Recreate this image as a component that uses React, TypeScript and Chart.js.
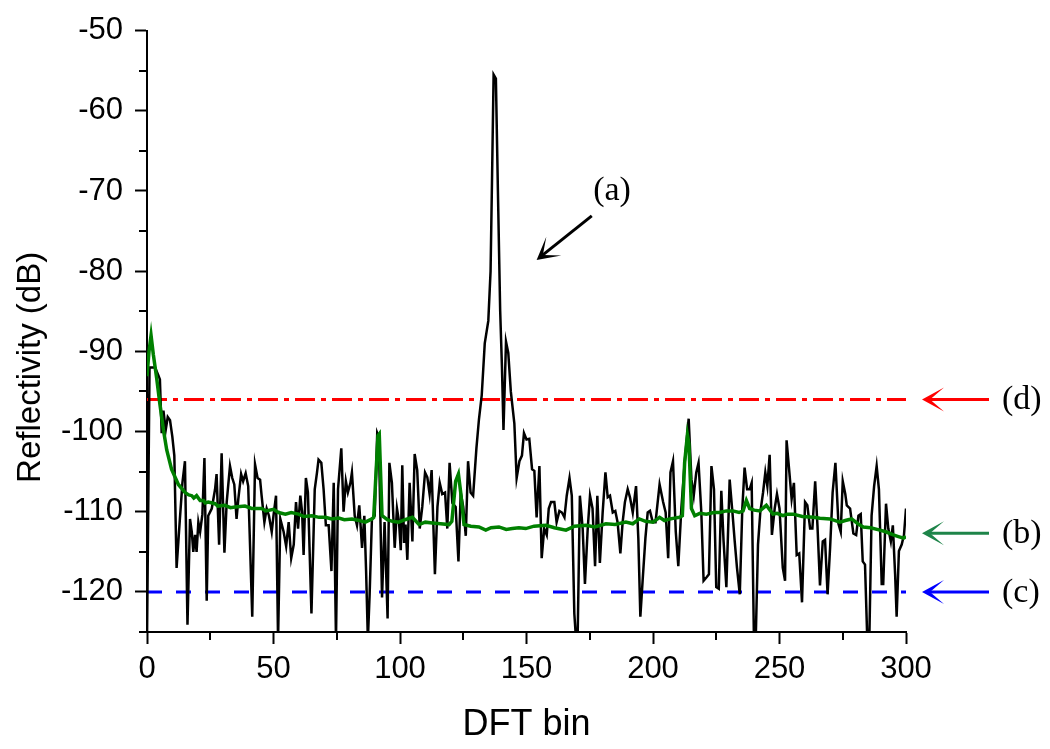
import React, { useEffect, useRef } from 'react';
import { Chart, registerables } from 'chart.js';

Chart.register(...registerables);

// ---- Data ----
const blackBins = [
  0, 1, 1.8, 3.2, 4.5, 5.1, 5.8, 6.5, 7.4, 8.2, 9.1, 10, 10.8, 11.7, 12.4, 13, 14, 15, 16, 17, 17.7, 18.3, 19, 19.6, 20.3, 21, 21.9, 22.7, 23.6, 24.2,
  25.6, 26.9, 27.5, 28.5, 29.5, 30.6, 31.5, 32.8, 33.7, 34.5, 35.4, 36.1, 37.2, 38, 39, 40, 41.6, 42.7, 43.7, 44.7, 45.3, 46.4, 47.3, 48.2, 49.3,
  50, 51, 51.8, 52.7, 54, 55, 56, 57, 58, 58.9, 59.7, 60.6, 61.3, 61.9, 62.8, 63.6, 65, 66.3, 67.2, 67.8, 68.9, 69.8, 70.7, 71.8, 72.9, 73.8, 74.7,
  75.5, 76.8, 77.7, 78.6, 79.4, 80.4, 81, 82.1, 83, 83.9, 85, 85.9, 86.6, 87.3, 88, 88.9, 90, 91, 91.6, 92.9, 93.9, 95.1, 95.8, 96.8, 97.9, 98.8,
  99.6, 100.3, 100.9, 101.6, 102.2, 102.9, 103.8, 104.9, 105.8, 106.8, 107.8, 108.8, 109.9, 110.8, 111.7, 112.5, 113.8, 114.8, 115.7, 116.7, 117.8,
  118.7, 119.6, 120.7, 122, 123.1, 124, 125, 126, 126.9, 127.9, 128.9, 130.2, 131.2, 132.3, 133.5, 134.9, 135.8, 136.4, 137, 137.9, 138.7, 139.6,
  140.3, 140.9, 141.9, 142.8, 143.8, 145.2, 146.1, 147.2, 148.2, 149, 150, 151.1, 152.2, 153.1, 154, 155.1, 156, 157, 158, 158.8, 159.7, 161, 161.9,
  163, 164, 165, 165.9, 167, 167.9, 168.9, 169.6, 170.2, 171.1, 172.2, 173.1, 174.2, 175.1, 176.1, 177.1, 178, 179, 180.1, 181.2, 182.1, 183, 184.1,
  185.1, 186, 187.1, 188, 188.9, 190, 190.9, 192, 193.3, 194.2, 195, 195.9, 197, 197.9, 198.8, 199.9, 201, 202.6, 204, 205, 206, 206.9, 207.9, 209,
  210, 211.2, 212.5, 214.1, 215.2, 216.1, 217.1, 218, 219.1, 220, 221.1, 222.1, 223.1, 224.1, 225, 226, 227, 227.9, 229, 230.3, 231.4, 232.3, 233.2,
  234.3, 235.3, 236.2, 237.2, 238.2, 239, 239.9, 240.6, 241.5, 242.4, 243.5, 244.4, 245.2, 246.1, 247, 248.1, 249, 250, 251.3, 252.2, 252.8, 253.9,
  254.8, 255.7, 256.8, 257.8, 258.9, 260.1, 261, 262.1, 263, 264.1, 265, 266, 267.1, 268, 269, 270, 271, 272.1, 273.3, 274.2, 275, 276, 276.6,
  277.9, 279.2, 280.3, 281.2, 282.1, 282.9, 283.8, 284.7, 285.5, 286.4, 287.4, 288.4, 289.3, 290.4, 291, 292.1, 293, 294, 294.8, 295.7, 296.3,
  297.2, 298.3, 299.2, 300,
];
const blackRefl = [
  -126, -92, -92, -92, -93, -93.5, -100.2, -97.4, -99.8, -98.2, -98.6, -100.6, -103, -117, -113.7, -110.9, -106.4, -103.7, -124.1, -110.9, -112.5, -115, -112.9, -115, -111.3, -112.5, -110.3, -103.3, -121.1, -110.5,
  -109.6, -107.2, -105.3, -114.1, -102.7, -115.1, -108.8, -104.3, -105.8, -106.6, -110.9, -108.4, -105.3, -106.2, -105.2, -106.8, -123.1, -104.1, -105.8, -106, -108, -111.3, -109.6, -110.5, -112.5,
  -110.5, -108, -126, -110.9, -112.5, -114.3, -111.3, -115.8, -114.1, -108.8, -112.1, -108, -110, -115.4, -105.8, -107.6, -122.7, -107.2, -105.1, -103.5, -103.9, -107.2, -111.7, -111.7, -117.4, -106.4, -126,
  -107.2, -102.1, -110, -106.2, -107.6, -106.4, -105.1, -110.5, -111.7, -109.2, -114.5, -110.5, -117.4, -126, -120.3, -110.9, -110.5, -100.2, -100.7, -120.7, -111.3, -123.3, -103.9, -106.4, -114.5, -109.6,
  -111.2, -114.8, -104.2, -113.9, -111.6, -116, -106.4, -113.7, -102.8, -104.8, -112.1, -109.4, -105.1, -105.7, -107.8, -104.8, -117.8, -109.4, -106.4, -107.8, -107.6,
  -112.1, -103.9, -108.9, -109.4, -116.2, -107.6, -109.4, -113, -103.7, -107.6, -108, -102.1, -98.5, -95.5, -89, -86.2, -80, -68, -55.5, -56, -70, -85,
  -92, -99.8, -88.8, -90.2, -95, -99, -105.8, -103.7, -103, -100.2, -101, -100.9, -104.7, -104.9, -110.7, -104.3, -115.8, -112.1, -112.9, -109.6, -108.8, -108.8, -111.3,
  -109.9, -110.1, -110.7, -108, -105.8, -108, -122.7, -126, -126, -108, -112.1, -119, -112.1, -108, -109.6, -116.8, -108, -116.4, -110.1, -105.1, -108.2, -108, -110.1,
  -109.9, -111.3, -115.2, -111.3, -108.8, -107.2, -108.2, -110.1, -106.8, -113.3, -123.1, -118.6, -113.3, -110.1, -109.9, -111.3, -111.3, -106.6, -108.8, -110.1, -115.8, -105.1, -103.7, -112.5,
  -116.8, -109.6, -103.9, -98.4, -106, -108, -105.1, -103.9, -110.1, -118.6, -118.2, -117.8, -104.3, -107.2, -119.4, -119.6, -107.4, -113.7, -119.4, -106, -110.1, -113.7, -117,
  -120.3, -109.6, -104.5, -107.2, -107.2, -106.4, -126, -126, -114.1, -110.1, -107.6, -105.1, -106.8, -102.9, -112.9, -109.6, -107.8, -109.6, -117, -118.6, -101.1, -105.1,
  -108.4, -106.4, -115.4, -115.2, -121.3, -108.8, -109.2, -112.1, -112.1, -106.2, -111.7, -119.2, -113.7, -113.5, -120.3, -114.5, -107.6, -103.9, -111.5, -112.5, -106.2, -107.8, -109.2,
  -109.6, -112.7, -112.9, -110.5, -110.3, -116.2, -116.6, -126, -126, -110.5, -106.8, -104.3, -107.2, -119, -119, -109, -112.1, -113.7, -111.7, -117.8, -123.1,
  -114.9, -114.1, -112.9, -109.6,
];

const greenBins = [
  0, 0.8, 1.6, 2.5, 3.8, 5.1, 6.5, 7.8, 9.7, 12.4, 15, 16.5, 17.7, 18.5, 19.6, 21, 22.3, 23, 24.2, 26.9, 28, 30.8, 33, 34.8, 38.7, 41.4, 45.3, 47, 50,
  52, 54.7, 57, 59.9, 62, 65.2, 68, 70.5, 73, 75.8, 78, 81, 84, 86.3, 88.9, 89.6, 91.3, 91.8, 92.9, 95, 97, 99.5, 102, 104.9, 107.5, 110, 112.8, 116,
  119.4, 120.5, 122, 123.1, 124, 125.3, 128, 131.2, 133.9, 136, 139.1, 142, 144.4, 147, 149.7, 153, 157.7, 161, 165.6, 169, 173.5, 177, 181.4, 185,
  189.3, 192, 194.6, 197, 200, 202.6, 204.5, 206.6, 208.5, 210.5, 211.6, 212.5, 213.6, 214.2, 215.2, 216.5, 218.5, 221.1, 224, 226.3, 229, 231.6,
  234, 235.6, 236.9, 238.2, 240, 242.2, 244.8, 247.4, 249, 251.4, 253, 255.5, 259, 263.4, 266, 270, 273.9, 276, 278.5, 281, 283.1, 286, 289.7, 292,
  295, 297, 299, 300,
];
const greenRefl = [
  -93.1, -90, -88, -90.4, -93.3, -96.6, -99.8, -102.3, -104.7, -106.6, -107.6, -107.9, -108, -108.3, -108, -108.6, -108.6, -108.9, -108.8, -109, -109.3, -109.2, -109.5, -109.4, -109.3, -109.6, -109.6, -109.9, -109.7,
  -110.1, -110.3, -110.1, -110.3, -110.6, -110.5, -110.7, -110.7, -110.9, -110.8, -111, -110.9, -111.1, -111.3, -110.9, -110.7, -100.5, -100.3, -110.5, -111, -111.2, -111.3, -111, -110.7, -111.6, -111.3, -111.4, -111.5,
  -111.6, -111.2, -106.2, -105.3, -107.6, -111.6, -111.8, -111.9, -112.3, -112, -111.9, -112.2, -112.1, -112, -112.1, -111.8, -111.7, -112, -112.3, -111.8, -111.7, -111.9, -111.5, -111.6,
  -111.3, -111.5, -110.9, -111.2, -111.3, -110.7, -111.1, -110.9, -110.8, -110.7, -110.5, -103.9, -100.4, -101.5, -109.6, -110.5, -110.2, -110.3, -110.1, -110.1, -109.9, -109.9,
  -110.1, -109.9, -108.6, -109.6, -109.8, -109.9, -109.2, -110.3, -110.2, -110.5, -110.3, -110.3, -110.6, -110.7, -110.8, -110.9, -111.3, -111.1, -110.9, -111.5, -111.9, -112, -112.3, -112.5,
  -112.9, -113.1, -113.3, -113.1,
];

const levelD = -96;   // red dash-dot threshold
const levelC = -120;  // blue dashed threshold
const levelB = -112.7; // green arrow level
const xRange = [0, 300];
const yRange = [-125, -50];
const xMinorTicks = [25, 75, 125, 175, 225, 275];
const yMinorTicks = [-125, -115, -105, -95, -85, -75, -65, -55];
const yTitle = 'Reflectivity (dB)';
const yTitleCenter = -92; // axis value at which the y title is centred

const annotA = { text: '(a)', x: 183.8, y: -70, tailX: 175.8, tailY: -73.1, tipX: 154, tipY: -78.6 };
const sideLabels = [
  { text: '(d)', level: levelD, color: '#ff0000' },
  { text: '(b)', level: levelB, color: '#1e8449' },
  { text: '(c)', level: levelC, color: '#0000ff' },
];

const sansFont = '"Liberation Sans", Arial, sans-serif';

function drawArrow(ctx: CanvasRenderingContext2D, x1: number, y1: number, x2: number, y2: number, color: string, width: number) {
  const ang = Math.atan2(y2 - y1, x2 - x1);
  const len = Math.hypot(x2 - x1, y2 - y1);
  ctx.save();
  ctx.translate(x2, y2);
  ctx.rotate(ang);
  ctx.strokeStyle = color;
  ctx.fillStyle = color;
  ctx.lineWidth = width;
  ctx.setLineDash([]);
  ctx.beginPath();
  ctx.moveTo(-len, 0);
  ctx.lineTo(-6, 0);
  ctx.stroke();
  ctx.beginPath();
  ctx.moveTo(0, 0);
  ctx.lineTo(-22, -12);
  ctx.lineTo(-8, 0);
  ctx.lineTo(-22, 12);
  ctx.closePath();
  ctx.fill();
  ctx.restore();
}

const annotationPlugin = {
  id: 'annotationPlugin',
  afterDraw(chart: any) {
    const { ctx, chartArea, scales } = chart;
    const xs = scales.x;
    const ys = scales.y;
    ctx.save();
    // minor ticks
    ctx.strokeStyle = '#000';
    ctx.lineWidth = 2;
    ctx.setLineDash([]);
    for (const v of yMinorTicks) {
      const py = Math.round(ys.getPixelForValue(v));
      ctx.beginPath();
      ctx.moveTo(chartArea.left - 8, py);
      ctx.lineTo(chartArea.left, py);
      ctx.stroke();
    }
    for (const v of xMinorTicks) {
      const px = Math.round(xs.getPixelForValue(v));
      ctx.beginPath();
      ctx.moveTo(px, chartArea.bottom);
      ctx.lineTo(px, chartArea.bottom + 8);
      ctx.stroke();
    }
    // y axis title
    ctx.save();
    ctx.translate(31, ys.getPixelForValue(yTitleCenter));
    ctx.rotate(-Math.PI / 2);
    ctx.font = `33px ${sansFont}`;
    ctx.fillStyle = '#000';
    ctx.textAlign = 'center';
    ctx.textBaseline = 'middle';
    ctx.fillText(yTitle, 0, 0);
    ctx.restore();
    // (a) annotation
    const serif = '34px "Liberation Serif", "Times New Roman", serif';
    ctx.font = serif;
    ctx.fillStyle = '#000';
    ctx.textAlign = 'center';
    ctx.textBaseline = 'middle';
    ctx.fillText(annotA.text, xs.getPixelForValue(annotA.x), ys.getPixelForValue(annotA.y));
    drawArrow(ctx, xs.getPixelForValue(annotA.tailX), ys.getPixelForValue(annotA.tailY),
      xs.getPixelForValue(annotA.tipX), ys.getPixelForValue(annotA.tipY), '#000', 3);
    // side labels with arrows
    ctx.textAlign = 'left';
    for (const s of sideLabels) {
      const py = ys.getPixelForValue(s.level);
      drawArrow(ctx, chartArea.right + 83, py, chartArea.right + 16, py, s.color, 3);
      ctx.fillStyle = '#000';
      ctx.font = serif;
      ctx.fillText(s.text, chartArea.right + 96, py + 1);
    }
    ctx.restore();
  },
};

export default function App() {
  const canvasRef = useRef<HTMLCanvasElement | null>(null);

  useEffect(() => {
    if (!canvasRef.current) return;
    const blackData = blackBins.map((x, i) => ({ x, y: blackRefl[i] }));
    const greenData = greenBins.map((x, i) => ({ x, y: greenRefl[i] }));
    const chart = new Chart(canvasRef.current, {
      type: 'line',
      data: {
        datasets: [
          {
            label: '(b)',
            data: greenData,
            borderColor: '#008000',
            borderWidth: 3.5,
            pointRadius: 0,
            tension: 0,
            order: 0,
            clip: 0,
          },
          {
            label: '(a)',
            data: blackData,
            borderColor: '#000000',
            borderWidth: 2.5,
            pointRadius: 0,
            tension: 0,
            order: 1,
            clip: 0,
          },
          {
            label: '(c)',
            data: [{ x: xRange[0], y: levelC }, { x: xRange[1], y: levelC }],
            borderColor: '#0000ff',
            borderWidth: 3,
            borderDash: [15, 14],
            pointRadius: 0,
            order: 2,
            clip: 0,
          },
          {
            label: '(d)',
            data: [{ x: xRange[0], y: levelD }, { x: xRange[1], y: levelD }],
            borderColor: '#ff0000',
            borderWidth: 3,
            borderDash: [20, 6, 5, 6],
            pointRadius: 0,
            order: 3,
            clip: 0,
          },
        ],
      },
      options: {
        animation: false,
        responsive: true,
        maintainAspectRatio: false,
        layout: { padding: { left: 0, top: 20, right: 144, bottom: 0 } },
        plugins: {
          legend: { display: false },
          tooltip: { enabled: false },
        },
        scales: {
          x: {
            type: 'linear',
            min: xRange[0],
            max: xRange[1],
            afterFit: (scale: any) => { scale.height = 117; },
            ticks: {
              stepSize: 25,
              autoSkip: false,
              maxRotation: 0,
              padding: 7,
              color: '#000',
              font: { family: sansFont, size: 31 },
              callback: (v: any) => (Number(v) % 50 === 0 ? String(v) : ''),
            },
            grid: {
              drawOnChartArea: false,
              drawTicks: true,
              tickLength: 12,
              tickWidth: 2,
              tickColor: (c: any) => (c.tick && c.tick.value % 50 === 0 ? '#000' : 'rgba(0,0,0,0)'),
            },
            border: { display: true, color: '#000', width: 2 },
            title: {
              display: true,
              text: 'DFT bin',
              color: '#000',
              font: { family: sansFont, size: 36 },
              padding: { top: 2, bottom: 2 },
            },
          },
          y: {
            type: 'linear',
            min: yRange[0],
            max: yRange[1],
            afterFit: (scale: any) => { scale.width = 147; },
            ticks: {
              stepSize: 5,
              autoSkip: false,
              padding: 12,
              color: '#000',
              font: { family: sansFont, size: 31 },
              callback: (v: any) => (Number(v) % 10 === 0 ? String(v) : ''),
            },
            grid: {
              drawOnChartArea: false,
              drawTicks: true,
              tickLength: 12,
              tickWidth: 2,
              tickColor: (c: any) => (c.tick && c.tick.value % 10 === 0 ? '#000' : 'rgba(0,0,0,0)'),
            },
            border: { display: true, color: '#000', width: 2 },
            title: { display: false },
          },
        },
      },
      plugins: [annotationPlugin],
    } as any);
    return () => chart.destroy();
  }, []);

  return (
    <div style={{ position: 'fixed', left: 0, top: 0, width: 1050, height: 749, background: '#fff' }}>
      <canvas ref={canvasRef} />
    </div>
  );
}
